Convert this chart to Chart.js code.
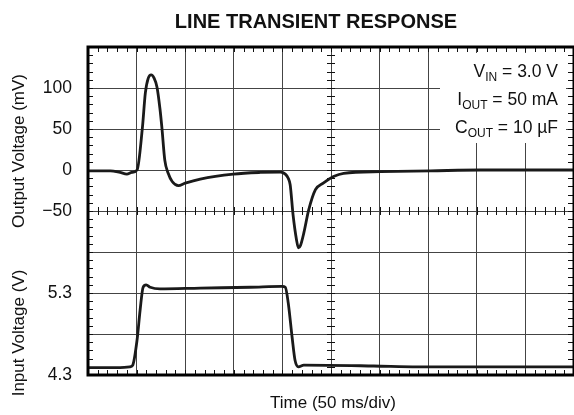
<!DOCTYPE html>
<html>
<head>
<meta charset="utf-8">
<script src="https://cdn.jsdelivr.net/npm/chart.js@4/dist/chart.umd.min.js"></script>
<style>
  body { margin: 0; background: #fff; }
  canvas { display: block; }
</style>
</head>
<body>
<canvas id="grafico" width="574" height="415"></canvas>
<script>
// Datos (tiempo en ms, 50 ms/div)
const tSalida = [0, 23, 33, 40, 45, 50.5, 56, 59, 62, 65, 68, 71, 74, 76, 79, 82.5, 86.6, 93, 100, 115.5, 149.5, 177, 198, 203, 206, 208, 211, 214.5, 216.5, 218.6, 222, 227, 234, 242, 252.6, 263, 301, 352.6, 404, 456, 500];
const vSalida = [-1, -1, -3, -5, -3, 0, 52, 94, 112, 116, 112, 101, 75, 52, 12, -4, -14, -19, -16, -11, -5, -3, -2.5, -5, -10, -18, -55, -85, -95, -92, -77, -49, -24, -16, -8, -4, -2, -1, 0, 0, 0];

const tEntrada = [0, 33, 43, 46, 50.5, 53.6, 56.7, 59.8, 64, 74, 115.5, 167, 200, 203, 206, 210, 213, 216.5, 222, 294, 339, 500];
const vEntrada = [4.39, 4.39, 4.40, 4.42, 4.73, 5.09, 5.37, 5.40, 5.37, 5.35, 5.36, 5.37, 5.38, 5.37, 5.18, 4.76, 4.48, 4.40, 4.42, 4.41, 4.40, 4.40];

// Etiquetas del eje vertical
const ticksSalida = [100, 50, 0, -50];
const ticksEntrada = [5.3, 4.3];

const fuente = '"Liberation Sans", Arial, sans-serif';

// Posición del voltaje de entrada sobre la escala de salida (0.5 V/div = 50 mV/div)
function entradaASalida(v) {
  return -250 + (v - 4.3) * 100;
}

const puntosSalida = tSalida.map((t, i) => ({ x: t, y: vSalida[i] }));
const puntosEntrada = tEntrada.map((t, i) => ({ x: t, y: vEntrada[i] }));

// Plugin para los detalles de la rejilla, el recuadro y los textos
const decoraciones = {
  id: 'decoraciones',
  beforeDatasetsDraw(chart) {
    const { ctx, chartArea: a, scales } = chart;
    const xs = scales.x, ys = scales.ySal;
    const cy = ys.getPixelForValue(-50);
    const cx = xs.getPixelForValue(250);
    ctx.save();
    ctx.strokeStyle = '#111';
    ctx.lineWidth = 1;
    ctx.beginPath();
    for (let i = 0; i <= 50; i++) {
      const px = Math.round(xs.getPixelForValue(i * 10)) + 0.5;
      ctx.moveTo(px, a.top); ctx.lineTo(px, a.top + 5);
      ctx.moveTo(px, a.bottom - 5); ctx.lineTo(px, a.bottom);
      ctx.moveTo(px, cy - 4); ctx.lineTo(px, cy + 4);
    }
    for (let i = 0; i <= 40; i++) {
      const py = Math.round(ys.getPixelForValue(-250 + i * 10)) + 0.5;
      ctx.moveTo(a.left, py); ctx.lineTo(a.left + 5, py);
      ctx.moveTo(a.right - 6, py); ctx.lineTo(a.right, py);
      ctx.moveTo(cx - 4, py); ctx.lineTo(cx + 4, py);
    }
    ctx.stroke();
    // recuadro blanco de la leyenda
    ctx.fillStyle = '#fff';
    ctx.fillRect(440, a.top + 6, a.right - 8 - 440, 90);
    ctx.restore();
  },
  afterDraw(chart) {
    const { ctx, chartArea: a } = chart;
    ctx.save();
    ctx.strokeStyle = '#000';
    ctx.lineWidth = 3;
    ctx.strokeRect(a.left, a.top, a.right - a.left, a.bottom - a.top);

    ctx.fillStyle = '#111';
    // título
    ctx.font = 'bold 20px ' + fuente;
    ctx.textAlign = 'center';
    ctx.textBaseline = 'alphabetic';
    ctx.fillText('LINE TRANSIENT RESPONSE', 316, 28);

    // título eje x
    ctx.font = '17px ' + fuente;
    ctx.fillText('Time (50 ms/div)', 333, 408);

    // títulos eje y
    ctx.save();
    ctx.translate(24, 151);
    ctx.rotate(-Math.PI / 2);
    ctx.fillText('Output Voltage (mV)', 0, 0);
    ctx.restore();
    ctx.save();
    ctx.translate(24, 333);
    ctx.rotate(-Math.PI / 2);
    ctx.fillText('Input Voltage (V)', 0, 0);
    ctx.restore();

    // condiciones de prueba
    const lineas = [
      ['V', 'IN', ' = 3.0 V', 77],
      ['I', 'OUT', ' = 50 mA', 105],
      ['C', 'OUT', ' = 10 \u00b5F', 133]
    ];
    ctx.textAlign = 'left';
    lineas.forEach(([base, sub, resto, y]) => {
      ctx.font = '17.5px ' + fuente;
      const w1 = ctx.measureText(base).width;
      const w3 = ctx.measureText(resto).width;
      ctx.font = '12px ' + fuente;
      const w2 = ctx.measureText(sub).width;
      let x = 558 - (w1 + w2 + w3);
      ctx.font = '17.5px ' + fuente;
      ctx.fillText(base, x, y);
      ctx.font = '12px ' + fuente;
      ctx.fillText(sub, x + w1, y + 4);
      ctx.font = '17.5px ' + fuente;
      ctx.fillText(resto, x + w1 + w2, y);
    });
    ctx.restore();
  }
};

const ctx = document.getElementById('grafico').getContext('2d');
new Chart(ctx, {
  type: 'line',
  data: {
    datasets: [
      {
        label: 'Output Voltage',
        data: puntosSalida,
        yAxisID: 'ySal',
        borderColor: '#1a1a1a',
        borderWidth: 2.8,
        pointRadius: 0,
        cubicInterpolationMode: 'monotone',
        fill: false
      },
      {
        label: 'Input Voltage',
        data: puntosEntrada,
        yAxisID: 'yEnt',
        borderColor: '#1a1a1a',
        borderWidth: 2.8,
        pointRadius: 0,
        cubicInterpolationMode: 'monotone',
        fill: false
      }
    ]
  },
  options: {
    responsive: false,
    devicePixelRatio: 1,
    animation: false,
    layout: { padding: { left: 0, top: 47, right: 0, bottom: 0 } },
    plugins: {
      legend: { display: false },
      tooltip: { enabled: false },
      title: { display: false }
    },
    scales: {
      x: {
        type: 'linear',
        min: 0,
        max: 500,
        ticks: { stepSize: 50, display: false },
        grid: { color: '#444', lineWidth: 1, drawTicks: false },
        border: { display: false },
        afterFit(scale) { scale.height = 40; }
      },
      ySal: {
        type: 'linear',
        position: 'left',
        min: -250,
        max: 150,
        ticks: {
          stepSize: 50,
          padding: 16,
          color: '#111',
          font: { family: fuente, size: 17.5 },
          callback(value) {
            if (ticksSalida.includes(value)) {
              return value < 0 ? '\u2212' + Math.abs(value) : String(value);
            }
            const v = ticksEntrada.find(e => Math.abs(entradaASalida(e) - value) < 0.01);
            return v !== undefined ? v.toFixed(1) : '';
          }
        },
        grid: { color: '#444', lineWidth: 1, drawTicks: false },
        border: { display: false },
        afterFit(scale) { scale.width = 88; }
      },
      yEnt: {
        type: 'linear',
        display: false,
        min: 4.3,
        max: 8.3
      }
    }
  },
  plugins: [decoraciones]
});
</script>
</body>
</html>
